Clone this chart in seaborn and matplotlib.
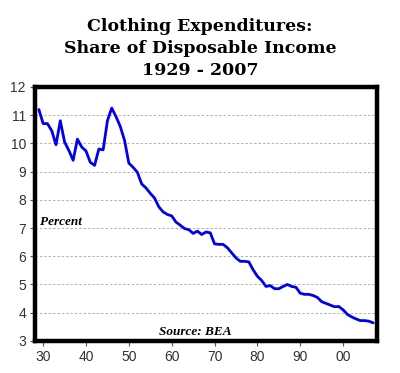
import numpy as np
import pandas as pd
import matplotlib.pyplot as plt
import seaborn as sns

# clothing share of disposable income, percent
years = list(range(1929, 2008))
share = [11.2, 10.7, 10.7, 10.45, 9.95, 10.8, 10.05, 9.75, 9.4, 10.15,
         9.87, 9.73, 9.33, 9.22, 9.8, 9.77, 10.8, 11.25, 10.95, 10.6,
         10.1, 9.3, 9.15, 8.97, 8.56, 8.42, 8.23, 8.06, 7.75, 7.57,
         7.48, 7.43, 7.21, 7.1, 6.98, 6.94, 6.81, 6.89, 6.77, 6.86,
         6.83, 6.44, 6.42, 6.42, 6.3, 6.12, 5.94, 5.82, 5.82, 5.8,
         5.52, 5.29, 5.14, 4.93, 4.96, 4.85, 4.85, 4.93, 5.0, 4.93,
         4.9, 4.69, 4.65, 4.65, 4.61, 4.54, 4.39, 4.33, 4.27, 4.21,
         4.22, 4.1, 3.94, 3.85, 3.78, 3.72, 3.72, 3.7, 3.64]
xticks = [1930, 1940, 1950, 1960, 1970, 1980, 1990, 2000]
xlabels = ["30", "40", "50", "60", "70", "80", "90", "00"]
yticks = list(range(3, 13))

df = pd.DataFrame({"year": years, "share": share})

sns.set_style("white")
plt.rcParams["font.family"] = ["Liberation Sans", "DejaVu Sans"]

fig = plt.figure(figsize=(4, 3.73), dpi=100)
ax = fig.add_axes([0.0875, 0.086, 0.856, 0.681])

for v in yticks[1:-1]:
    ax.axhline(v, color="#b0b0b0", lw=0.7, ls=(0, (2.5, 2)), zorder=0)

sns.lineplot(data=df, x="year", y="share", ax=ax, color="#0000ee", lw=2)

ax.set_xlim(1928.1, 2008)
ax.set_ylim(3, 12)
ax.set_xticks(xticks)
ax.set_xticklabels(xlabels)
ax.set_yticks(yticks)
ax.set_xlabel("")
ax.set_ylabel("")
ax.tick_params(axis="both", direction="out", length=3.5, width=0.8,
               color="#555555", labelsize=10, labelcolor="#333333", pad=3)
ax.tick_params(axis="x", bottom=True)
ax.tick_params(axis="y", left=True)
for sp in ax.spines.values():
    sp.set_visible(True)
    sp.set_color("black")
    sp.set_linewidth(3.2)

ax.text(1929.2, 7.2, "Percent", family="Liberation Serif", style="italic",
        weight="bold", fontsize=9.5, va="center", color="black")
ax.text(1965.6, 3.1, "Source: BEA", family="Liberation Serif", style="italic",
        weight="bold", fontsize=9.5, ha="center", va="bottom", color="black")

fig.text(0.5, 0.952, "Clothing Expenditures:\nShare of Disposable Income\n1929 - 2007",
         family="DejaVu Serif", weight="bold", fontsize=12.5, ha="center",
         va="top", linespacing=1.38, color="black")

fig.savefig("out.png", dpi=100)
